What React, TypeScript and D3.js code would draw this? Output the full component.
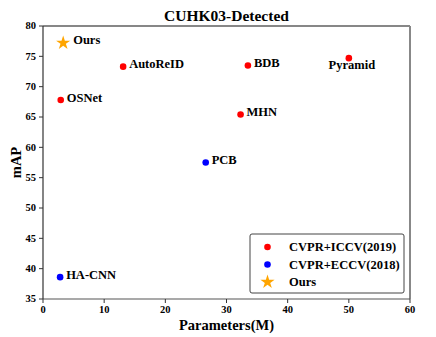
import * as d3 from 'd3'

const width = 436
const height = 337
const margin = { top: 26, right: 26, bottom: 38, left: 43 }

const methods = ['Ours', 'AutoReID', 'BDB', 'Pyramid', 'OSNet', 'MHN', 'PCB', 'HA-CNN']
const params = [3.3, 13.1, 33.5, 50.0, 2.9, 32.3, 26.6, 2.8]
const mAP = [77.2, 73.3, 73.5, 74.7, 67.8, 65.4, 57.5, 38.6]
const groups = ['ours', '2019', '2019', '2019', '2019', '2019', '2018', '2018']

const xTicks = [0, 10, 20, 30, 40, 50, 60]
const yTicks = [35, 40, 45, 50, 55, 60, 65, 70, 75, 80]

const legendLabels = ['CVPR+ICCV(2019)', 'CVPR+ECCV(2018)', 'Ours']
const legendGroups = ['2019', '2018', 'ours']

const colors: Record<string, string> = { '2019': '#ff0000', '2018': '#0000ff', ours: '#ffa500' }

const font = '"Liberation Serif", "Times New Roman", serif'

const star = d3.symbol(d3.symbolStar, 62)()

function App() {
  const innerWidth = width - margin.left - margin.right
  const innerHeight = height - margin.top - margin.bottom

  const x = d3.scaleLinear().domain([0, 60]).range([0, innerWidth])
  const y = d3.scaleLinear().domain([35, 80]).range([innerHeight, 0])

  const Marker = ({ g }: { g: string }) =>
    g === 'ours' ? (
      <path d={star ?? ''} fill={colors.ours} />
    ) : (
      <circle r={3.3} fill={colors[g]} />
    )

  return (
    <svg width={width} height={height} style={{ position: 'absolute', left: 0, top: 0, fontFamily: font, fontWeight: 'bold' }}>
      <text x={margin.left + innerWidth / 2} y={21} textAnchor="middle" fontSize={15.5}>
        CUHK03-Detected
      </text>
      <g transform={`translate(${margin.left},${margin.top})`}>
        <line x1={0} x2={innerWidth} y1={0} y2={0} stroke="#111" strokeWidth={1.2} />
        <line x1={innerWidth} x2={innerWidth} y1={0} y2={innerHeight} stroke="#888" strokeWidth={2} />
        <line x1={0} x2={innerWidth} y1={innerHeight} y2={innerHeight} stroke="#555" strokeWidth={1.2} />
        <line x1={0} x2={0} y1={0} y2={innerHeight} stroke="#333" strokeWidth={1.2} />

        {xTicks.map((t) => (
          <g key={t} transform={`translate(${x(t)},${innerHeight})`}>
            <line y2={4} stroke="#333" />
            <text y={14} textAnchor="middle" fontSize={10.5}>
              {t}
            </text>
          </g>
        ))}
        {yTicks.map((t) => (
          <g key={t} transform={`translate(0,${y(t)})`}>
            <line x2={-4} stroke="#333" />
            <text x={-7} dy="0.32em" textAnchor="end" fontSize={10.5}>
              {t}
            </text>
          </g>
        ))}

        {methods.map((m, i) => {
          const px = x(params[i])
          const py = y(mAP[i])
          const isPyramid = m === 'Pyramid'
          return (
            <g key={m}>
              <g transform={`translate(${px},${py})`}>
                <Marker g={groups[i]} />
              </g>
              <text
                x={isPyramid ? px + 3 : px + (groups[i] === 'ours' ? 10 : 6)}
                y={isPyramid ? py + 11 : py + 1.5}
                textAnchor={isPyramid ? 'middle' : 'start'}
                fontSize={12.5}
              >
                {m}
              </text>
            </g>
          )
        })}

        <g transform={`translate(${innerWidth - 160},${innerHeight - 65})`}>
          <rect width={154} height={59} rx={2} fill="white" stroke="#444" strokeWidth={1} />
          {legendLabels.map((l, i) => (
            <g key={l} transform={`translate(0,${13 + i * 17.5})`}>
              <g transform="translate(17.5,0)">
                <Marker g={legendGroups[i]} />
              </g>
              <text x={39} dy="0.35em" fontSize={12.5}>
                {l}
              </text>
            </g>
          ))}
        </g>
      </g>
      <text x={margin.left + innerWidth / 2} y={330} textAnchor="middle" fontSize={14.5}>
        Parameters(M)
      </text>
      <text transform={`translate(21,${margin.top + innerHeight / 2}) rotate(-90)`} textAnchor="middle" fontSize={14.5}>
        mAP
      </text>
    </svg>
  )
}

export default App
